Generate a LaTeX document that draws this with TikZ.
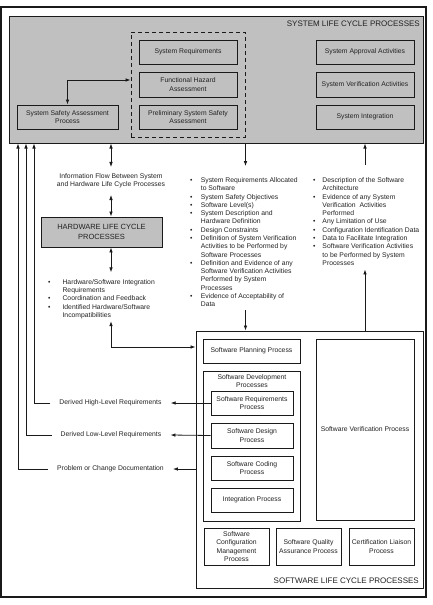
\documentclass[tikz,border=0pt]{standalone}
\usepackage{fontspec}
\setmainfont{Liberation Sans}
\usetikzlibrary{arrows.meta}
\definecolor{sysgray}{HTML}{C0C0C0}
\definecolor{ink}{HTML}{1A1A1A}
\definecolor{txt}{HTML}{222222}
\newcommand\fs{\fontsize{6.8}{8.27}\selectfont}
\newcommand\bigfs{\fontsize{8}{9.5}\selectfont}
\begin{document}
\begin{tikzpicture}[x=1pt,y=-1pt,
  box/.style={draw=ink, line width=0.9pt, inner sep=0pt, align=center, font=\fs, text=txt},
  frm/.style={draw=ink, inner sep=0pt},
  arr/.style={draw=ink, line width=0.8pt, -{Latex[length=5pt,width=3.6pt]}},
  darr/.style={draw=ink, line width=0.8pt, {Latex[length=5pt,width=3.6pt]}-{Latex[length=5pt,width=3.6pt]}},
  lbl/.style={inner sep=0pt, align=center, font=\fs, text=txt},
  lst/.style={inner sep=0pt, anchor=north west, font=\fs, text=txt},
  ttl/.style={inner sep=0pt, anchor=east, font=\bigfs, text=txt},
  ]
\useasboundingbox (0,0) rectangle (432,605);
% frames
\node[frm, line width=1.3pt, minimum width=425pt, minimum height=590pt] (frame) at (213.5,302) {};
\node[frm, fill=sysgray, line width=1pt, minimum width=414pt, minimum height=127pt] (gray) at (216,79.5) {};
\node[ttl] (systitle) at (420,24) {SYSTEM LIFE CYCLE PROCESSES};
\node[frm, line width=1pt, dash pattern=on 4pt off 3pt, minimum width=114pt, minimum height=105pt] (dash) at (188,84.5) {};
% system boxes
\node[box, minimum width=98pt, minimum height=24pt] (sysreq) at (188,52) {System Requirements};
\node[box, minimum width=98pt, minimum height=25pt] (fha) at (188,84.5) {Functional Hazard\\Assessment};
\node[box, minimum width=98pt, minimum height=24pt] (pssa) at (188,117) {Preliminary System Safety\\Assessment};
\node[box, minimum width=101pt, minimum height=24pt] (ssa) at (67.5,117) {System Safety Assessment\\Process};
\node[box, minimum width=98pt, minimum height=24pt] (sapp) at (365,52) {System Approval Activities};
\node[box, minimum width=98pt, minimum height=25pt] (sver) at (365,84.5) {System Verification Activities};
\node[box, minimum width=98pt, minimum height=24pt] (sint) at (365,117) {System Integration};
% hardware
\node[lbl] (info) at (111,181) {Information Flow Between System\\and Hardware Life Cycle Processes};
\node[box, fill=sysgray, font=\fontsize{7.5}{9.4}\selectfont, minimum width=121pt, minimum height=30pt] (hw) at (101.5,232) {HARDWARE LIFE CYCLE\\PROCESSES};
\node[lst] (hwlist) at (48,278.4) {\begin{tabular}{@{}l@{\hspace{12pt}}l@{}}
\textbullet & Hardware/Software Integration\\
 & Requirements\\
\textbullet & Coordination and Feedback\\
\textbullet & Identified Hardware/Software\\
 & Incompatibilities
\end{tabular}};
% lists
\node[lst] (midlist) at (189.8,176.6) {\begin{tabular}{@{}l@{\hspace{8.5pt}}l@{}}
\textbullet & System Requirements Allocated\\
 & to Software\\
\textbullet & System Safety Objectives\\
\textbullet & Software Level(s)\\
\textbullet & System Description and\\
 & Hardware Definition\\
\textbullet & Design Constraints\\
\textbullet & Definition of System Verification\\
 & Activities to be Performed by\\
 & Software Processes\\
\textbullet & Definition and Evidence of any\\
 & Software Verification Activities\\
 & Performed by System\\
 & Processes\\
\textbullet & Evidence of Acceptability of\\
 & Data
\end{tabular}};
\node[lst] (rightlist) at (312.8,176.6) {\begin{tabular}{@{}l@{\hspace{7.1pt}}l@{}}
\textbullet & Description of the Software\\
 & Architecture\\
\textbullet & Evidence of any System\\
 & Verification\ \ Activities\\
 & Performed\\
\textbullet & Any Limitation of Use\\
\textbullet & Configuration Identification Data\\
\textbullet & Data to Facilitate Integration\\
\textbullet & Software Verification Activities\\
 & to be Performed by System\\
 & Processes
\end{tabular}};
% software
\node[frm, line width=1pt, fill=white, minimum width=227pt, minimum height=257pt] (swbox) at (309.5,459.5) {};
\node[ttl] (swtitle) at (419,581) {SOFTWARE LIFE CYCLE PROCESSES};
\node[box, minimum width=97pt, minimum height=24pt] (spp) at (251.5,351) {Software Planning Process};
\node[box, minimum width=97pt, minimum height=150pt] (sdev) at (251.5,446) {};
\node[lbl] (sdevt) at (252,381.3) {Software Development\\Processes};
\node[box, minimum width=82pt, minimum height=24pt] (srp) at (252,403) {Software Requirements\\Process};
\node[box, minimum width=82pt, minimum height=25pt] (sdp) at (252,435.5) {Software Design\\Process};
\node[box, minimum width=82pt, minimum height=24pt] (scp) at (252,468) {Software Coding\\Process};
\node[box, minimum width=82pt, minimum height=24pt] (ip) at (252,500) {Integration Process};
\node[box, minimum width=98pt, minimum height=181pt] (svp) at (365,429.5) {Software Verification Process};
\node[box, minimum width=65pt, minimum height=37pt] (scm) at (236.5,546.5) {Software\\Configuration\\Management\\Process};
\node[box, minimum width=65pt, minimum height=37pt] (sqa) at (308.5,546.5) {Software Quality\\Assurance Process};
\node[box, minimum width=65pt, minimum height=37pt] (clp) at (381.5,546.5) {Certification Liaison\\Process};
% left labels
\node[lbl, inner xsep=9pt] (dhl) at (110.5,403) {Derived High-Level Requirements};
\node[lbl, inner xsep=9pt] (dll) at (111,435) {Derived Low-Level Requirements};
\node[lbl, inner xsep=9pt] (pcd) at (110.5,469) {Problem or Change Documentation};
% coordinates
\coordinate (ax) at (111,0);
\coordinate (h80) at (0,80);
\coordinate (h347) at (0,347);
\coordinate (l1) at (34,0);
\coordinate (l2) at (26,0);
\coordinate (l3) at (18,0);
% connectors
\draw[darr] (ssa.north) |- (dash.west |- h80);
\draw[darr] (ax |- gray.south) -- ([yshift=6.5pt]ax |- info.north);
\draw[darr] ([yshift=-6.5pt]ax |- info.south) -- (ax |- hw.north);
\draw[darr] (ax |- hw.south) -- ([yshift=6pt]ax |- hwlist.north);
\draw[darr] ([yshift=-1pt]ax |- hwlist.south) -- (ax |- h347) -- (swbox.west |- h347);
\draw[arr] (dash.east |- gray.south) -- ([yshift=10.5pt]dash.east |- midlist.north);
\draw[arr] ([yshift=-1pt]dash.east |- midlist.south) -- (dash.east |- swbox.north);
\draw[arr] (sver.south |- swbox.north) -- ([yshift=-1.5pt]sver.south |- rightlist.south);
\draw[arr] ([yshift=11.5pt]sver.south |- rightlist.north) -- (sver.south |- gray.south);
\draw[arr] (srp.west) -- (dhl.east);
\draw[arr] (dhl.west) -| (l1 |- gray.south);
\draw[arr] (sdp.west) -- (dll.east);
\draw[arr] (dll.west) -| (l2 |- gray.south);
\draw[arr] (swbox.west |- pcd.east) -- (pcd.east);
\draw[arr] (pcd.west) -| (l3 |- gray.south);
\end{tikzpicture}
\end{document}
